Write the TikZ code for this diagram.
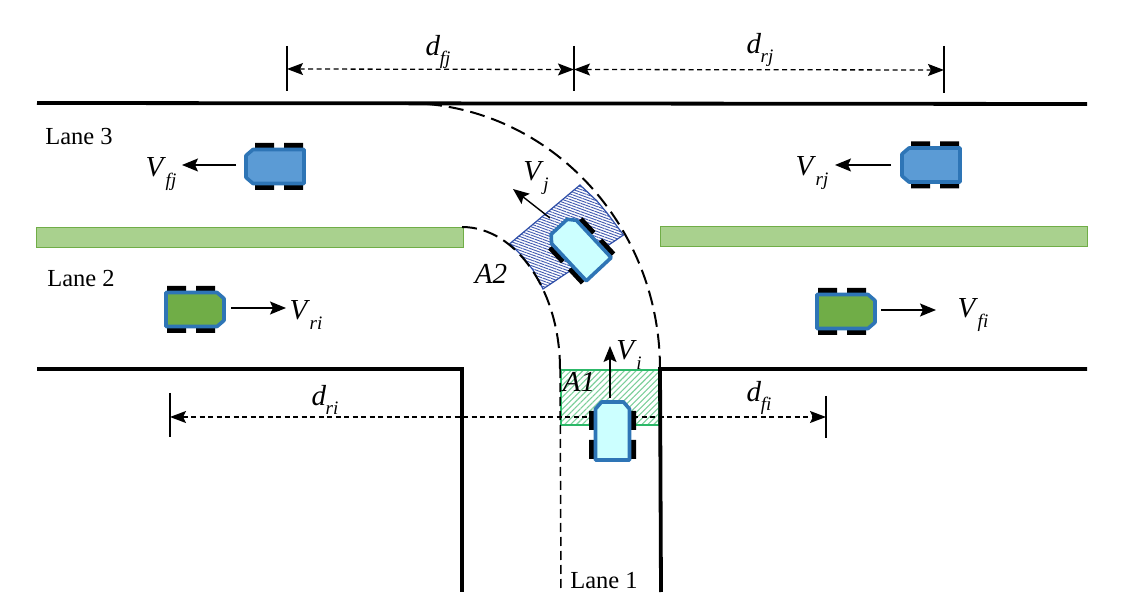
\documentclass[tikz,border=0pt]{standalone}
\usepackage{fontspec}
\setmainfont{Liberation Serif}
\usetikzlibrary{arrows.meta,patterns.meta}
\definecolor{carblue}{HTML}{5B9BD5}
\definecolor{edgeblue}{HTML}{2E75B6}
\definecolor{cargreen}{HTML}{70AD47}
\definecolor{carcyan}{HTML}{CCFFFF}
\definecolor{medfill}{HTML}{A9D18E}
\definecolor{aonee}{HTML}{2CB868}
\definecolor{aoneh}{HTML}{7CCF9A}
\definecolor{atwoe}{HTML}{2F4FA8}
\definecolor{atwoh}{HTML}{3F58B0}
\newcommand{\vsym}[2]{\textit{#1}\raisebox{-0.32em}{\fontsize{19}{21}\selectfont\kern-0.5pt\textit{#2}}}
\tikzset{
  x=1pt,y=-1pt,
  road/.style={line width=3.8pt,black,line cap=butt},
  median/.style={fill=medfill,draw=cargreen,line width=1.3pt},
  guide/.style={line width=2pt,dash pattern=on 15pt off 7pt},
  thinguide/.style={line width=1.5pt,dash pattern=on 9pt off 5pt},
  dimline/.style={line width=1.3pt,dash pattern=on 5pt off 3.5pt},
  tick/.style={line width=1.2pt},
  tip/.style={-{Stealth[length=16pt,width=13pt,inset=3pt]}},
  both/.style={{Stealth[length=16pt,width=12pt,inset=3pt]}-{Stealth[length=16pt,width=12pt,inset=3pt]}},
  speed/.style={line width=1.4pt,tip},
  lab/.style={font=\fontsize{29}{32}\selectfont,inner sep=0pt},
  plain/.style={font=\fontsize{24.5}{28}\selectfont,inner sep=0pt},
  pics/car/.style={code={
    \fill[black] (-20,-23.5) rectangle (-1,-18) (9,-23.5) rectangle (28,-18)
                 (-20,18) rectangle (-1,23.5) (9,18) rectangle (28,23.5);
    \draw[fill=#1,draw=edgeblue,line width=3.6pt,line join=round]
      (-29,-11) -- (-22,-17) -- (29,-17) -- (29,17) -- (-22,17) -- (-29,11) -- cycle;
  }}
}
\begin{document}
\begin{tikzpicture}
\useasboundingbox (0,0) rectangle (1125,609);
% medians
\node[median,minimum width=427pt,minimum height=20pt,inner sep=0pt,anchor=north west] (medL) at (36,227) {};
\node[median,minimum width=427pt,minimum height=20pt,inner sep=0pt,anchor=north west] (medR) at (660,226) {};
% hatched areas
\draw[draw=aonee,line width=1.2pt,pattern={Lines[angle=45,distance=4.2pt,line width=1.1pt]},pattern color=aoneh]
  (561,370) rectangle (659,425);
\draw[draw=atwoe,line width=1.2pt,pattern={Lines[angle=-20,distance=2.6pt,line width=.9pt]},pattern color=atwoh]
  (510,243.5) -- (523,257) -- (533,270) -- (543,289) -- (623.5,235) -- (607,213) -- (597,201) -- (580,185) -- cycle;
% roads
\coordinate (t1) at (37,103); \coordinate (t2) at (1087,104);
\coordinate (l1) at (37,369); \coordinate (l2) at (462,369); \coordinate (l3) at (462,592);
\coordinate (r1) at (1087,369); \coordinate (r2) at (660,369); \coordinate (r3) at (661,592);
\draw[road] (t1) -- (t2);
\draw[road] (l1) -- (l2) -- (l3);
\draw[road] (r1) -- (r2) -- (r3);
% guides
\draw[guide] (405,103) .. controls (546,103) and (660,222) .. (660,369);
\draw[guide] (462,227) .. controls (516,227) and (560,291) .. (560,369);
\coordinate (g1) at (560,369); \coordinate (g2) at (561,592);
\draw[thinguide] (g1) -- (g2);
% dimensions
\coordinate (a1) at (287,46); \coordinate (a2) at (287,91);
\coordinate (b1) at (574,46); \coordinate (b2) at (574,91);
\coordinate (c1) at (944,46); \coordinate (c2) at (944,93);
\coordinate (e1) at (170,393); \coordinate (e2) at (170,437);
\coordinate (f1) at (826,396); \coordinate (f2) at (826,438);
\draw[tick] (a1) -- (a2); \draw[tick] (b1) -- (b2); \draw[tick] (c1) -- (c2);
\draw[tick] (e1) -- (e2); \draw[tick] (f1) -- (f2);
\coordinate (da) at (287,69); \coordinate (db) at (574,69.5); \coordinate (dc) at (944,70);
\coordinate (de) at (170,417); \coordinate (df) at (826,417);
\draw[dimline,both] (da) -- (db);
\draw[dimline,both] (db) -- (dc);
\draw[dimline,both] (de) -- (df);
% velocity arrows
\coordinate (v1a) at (236,165); \coordinate (v1b) at (182,165);
\coordinate (v2a) at (891,165); \coordinate (v2b) at (835,165);
\coordinate (v3a) at (231,308); \coordinate (v3b) at (286,308);
\coordinate (v4a) at (881,310); \coordinate (v4b) at (936,310);
\coordinate (v5a) at (610,398); \coordinate (v5b) at (610,346);
\coordinate (v6a) at (550,218); \coordinate (v6b) at (513,189);
\draw[speed] (v1a) -- (v1b);
\draw[speed] (v2a) -- (v2b);
\draw[speed] (v3a) -- (v3b);
\draw[speed] (v4a) -- (v4b);
\draw[speed] (v5a) -- (v5b);
\draw[speed] (v6a) -- (v6b);
% cars
\pic at (275,166.5) {car=carblue};
\pic at (931,165) {car=carblue};
\pic[rotate=180] at (195,309.5) {car=cargreen};
\pic[rotate=180] at (846,311.5) {car=cargreen};
\pic[rotate=-90] at (612.5,431) {car=carcyan};
\pic[rotate=-47] at (579,248) {car=carcyan};
% labels
\node[lab] (ldfj) at (438,52) {\vsym{d}{fj}};
\node[lab] (ldrj) at (760,50) {\vsym{d}{rj}};
\node[lab] (ldri) at (325,400) {\vsym{d}{ri}};
\node[lab] (ldfi) at (759,398) {\vsym{d}{fi}};
\node[lab] (lvfj) at (161,174) {\vsym{V}{fj}};
\node[lab] (lvrj) at (812,173) {\vsym{V}{rj}};
\node[lab] (lvri) at (306,315) {\vsym{V}{ri}};
\node[lab] (lvfi) at (973,315) {\vsym{V}{fi}};
\node[lab] (lvi) at (629,355) {\vsym{V}{i}};
\node[lab] (lvj) at (536,178) {\vsym{V}{j}};
\node[lab] (la1) at (579,382) {\textit{A1}};
\node[lab] (la2) at (491,274) {\textit{A2}};
\node[plain] (lane3) at (79,137) {Lane 3};
\node[plain] (lane2) at (81,279) {Lane 2};
\node[plain] (lane1) at (604,581) {Lane 1};
\end{tikzpicture}
\end{document}
